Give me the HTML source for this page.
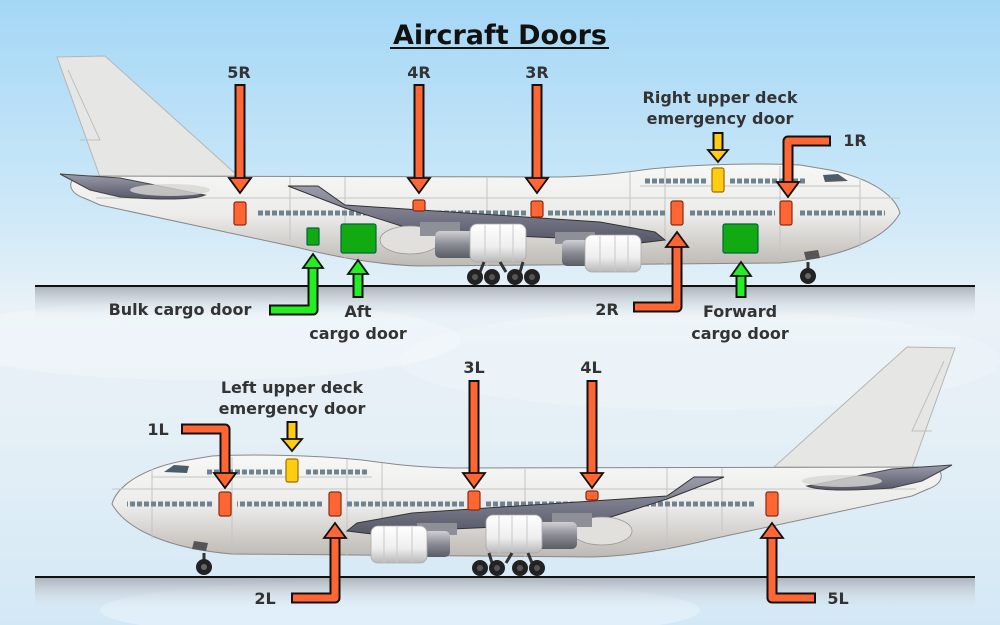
<!DOCTYPE html>
<html><head><meta charset="utf-8"><style>
html,body{margin:0;padding:0;width:1000px;height:625px;overflow:hidden}
svg{display:block}
text{font-family:"DejaVu Sans","Liberation Sans",sans-serif;font-weight:bold;fill:#333;font-size:16px}
</style></head><body>
<svg width="1000" height="625" viewBox="0 0 1000 625" xmlns="http://www.w3.org/2000/svg">
<defs>
<linearGradient id="sky" x1="0" y1="0" x2="0" y2="1">
<stop offset="0" stop-color="#a4d7f6"/><stop offset="0.35" stop-color="#cfe9f8"/>
<stop offset="0.5" stop-color="#eaf2f7"/><stop offset="0.7" stop-color="#e4eff6"/><stop offset="1" stop-color="#d3e8f6"/></linearGradient>
<linearGradient id="body" x1="0" y1="0" x2="0" y2="1">
<stop offset="0" stop-color="#f7f7f6"/><stop offset="0.5" stop-color="#ececea"/><stop offset="1" stop-color="#bdb9b3"/></linearGradient>
<linearGradient id="wing" x1="0" y1="0" x2="0" y2="1">
<stop offset="0" stop-color="#9a9cab"/><stop offset="1" stop-color="#555766"/></linearGradient>
<linearGradient id="eng" x1="0" y1="0" x2="0" y2="1">
<stop offset="0" stop-color="#ffffff"/><stop offset="0.6" stop-color="#eeeeee"/><stop offset="1" stop-color="#b8b8b8"/></linearGradient>
<linearGradient id="engb" x1="0" y1="0" x2="0" y2="1">
<stop offset="0" stop-color="#d0d0d4"/><stop offset="0.5" stop-color="#8a8c94"/><stop offset="1" stop-color="#5a5c64"/></linearGradient>
<linearGradient id="gnd" x1="0" y1="0" x2="0" y2="1">
<stop offset="0" stop-color="#aeb4bb"/><stop offset="1" stop-color="#dfe8ef" stop-opacity="0"/></linearGradient>
<g id="plane">
<path d="M57,57 L105,56 L238,176 L100,177 Z" fill="#e6e6e4" stroke="#b5b5b5" stroke-width="1"/>
<path d="M68,70 L100,140 L80,140" fill="none" stroke="#c0c0c0" stroke-width="1"/>
<path d="M900,213 C895,195 870,178 830,170 L800,165 C760,163 700,164 650,169 C620,173 600,176 560,177 L80,176 C68,178 66,192 84,198 L100,205 L300,248 C340,258 380,265 420,266 L780,263 C840,258 885,240 900,213 Z" fill="url(#body)" stroke="#888" stroke-width="1"/>
<path d="M96,198 L900,198 M640,186 L860,186 M290,177 L290,240 M345,177 L345,258 M487,177 L487,266 M630,172 L630,264 M665,168 L665,264 M780,166 L780,262 M860,178 L860,248" stroke="#c4c4c4" stroke-width="1" fill="none"/>
<path d="M823,175 L838,174 L848,181 L825,182 Z" fill="#4c5c68"/>
<path d="M258,213 H395 M430,213 H528 M548,213 H665 M690,213 H775 M800,213 H885" stroke="#6e8391" stroke-width="5" stroke-dasharray="5 2"/>
<path d="M645,181 H708 M730,181 H805" stroke="#6e8391" stroke-width="5" stroke-dasharray="5 2"/>
<path d="M60,174 L120,178 L205,195 C190,201 150,199 120,197 L90,190 Z" fill="url(#wing)" stroke="#444" stroke-width="1"/>
<ellipse cx="170" cy="190" rx="40" ry="6" fill="#d8d6d2" opacity="0.8"/>
<path d="M288,186 L318,186 L345,205 L600,222 L655,232 L665,240 L640,243 L560,238 L420,232 L345,208 Z" fill="url(#wing)" stroke="#333" stroke-width="1"/>
<ellipse cx="410" cy="240" rx="30" ry="14" fill="#e2e0dc" stroke="#999" stroke-width="0.8"/>
<rect x="420" y="222" width="40" height="14" fill="#8e9098"/>
<rect x="435" y="231" width="42" height="27" rx="5" fill="url(#engb)"/>
<rect x="470" y="224" width="56" height="38" rx="7" fill="url(#eng)" stroke="#aaa" stroke-width="0.8"/>
<path d="M485,225 V261 M500,224 V262 M513,224 V262" stroke="#c8c8c8" stroke-width="1"/>
<rect x="555" y="232" width="40" height="12" fill="#8e9098"/>
<rect x="562" y="240" width="30" height="26" rx="5" fill="url(#engb)"/>
<rect x="585" y="235" width="56" height="37" rx="7" fill="url(#eng)" stroke="#aaa" stroke-width="0.8"/>
<path d="M600,236 V271 M615,235 V272 M628,235 V272" stroke="#c8c8c8" stroke-width="1"/>
<path d="M484,262 L480,272 M500,262 L506,272 M523,262 L520,272" stroke="#333" stroke-width="3"/>
<circle cx="475" cy="277" r="8" fill="#222"/><circle cx="492" cy="277" r="8" fill="#222"/>
<circle cx="515" cy="277" r="8" fill="#222"/><circle cx="532" cy="277" r="8" fill="#222"/>
<circle cx="475" cy="277" r="3" fill="#555"/><circle cx="492" cy="277" r="3" fill="#555"/>
<circle cx="515" cy="277" r="3" fill="#555"/><circle cx="532" cy="277" r="3" fill="#555"/>
<path d="M808,262 V272" stroke="#333" stroke-width="3"/>
<path d="M804,252 L818,250 L820,258 L806,260 Z" fill="#555"/>
<circle cx="808" cy="276" r="8" fill="#222"/><circle cx="808" cy="276" r="3" fill="#666"/>
</g>
</defs>
<rect width="1000" height="625" fill="url(#sky)"/>
<ellipse cx="200" cy="340" rx="260" ry="40" fill="#fff" opacity="0.25"/>
<ellipse cx="700" cy="360" rx="300" ry="50" fill="#fff" opacity="0.2"/>
<ellipse cx="400" cy="610" rx="300" ry="30" fill="#fff" opacity="0.3"/>
<rect x="35" y="287" width="940" height="32" fill="url(#gnd)"/>
<rect x="35" y="578" width="940" height="32" fill="url(#gnd)"/>
<line x1="35" y1="286" x2="975" y2="286" stroke="#111" stroke-width="2"/>
<line x1="35" y1="577" x2="975" y2="577" stroke="#111" stroke-width="2"/>
<use href="#plane"/>
<use href="#plane" transform="translate(1012,291) scale(-1,1)"/>

<text x="500" y="44" text-anchor="middle" style="font-size:27px;fill:#111">Aircraft Doors</text>
<line x1="390" y1="48" x2="609" y2="48" stroke="#111" stroke-width="2"/>

<g stroke="#8a2a10" stroke-width="1.2">
<rect x="234" y="202" width="12" height="23" rx="2" fill="#ff6633"/>
<rect x="413" y="200" width="12" height="11" rx="2" fill="#ff6633"/>
<rect x="531" y="201" width="12" height="16" rx="2" fill="#ff6633"/>
<rect x="671" y="201" width="12" height="24" rx="2" fill="#ff6633"/>
<rect x="780" y="201" width="12" height="24" rx="2" fill="#ff6633"/>
<rect x="219" y="492" width="12" height="24" rx="2" fill="#ff6633"/>
<rect x="329" y="492" width="12" height="24" rx="2" fill="#ff6633"/>
<rect x="468" y="491" width="12" height="19" rx="2" fill="#ff6633"/>
<rect x="586" y="491" width="12" height="9" rx="2" fill="#ff6633"/>
<rect x="766" y="492" width="12" height="24" rx="2" fill="#ff6633"/>
</g>
<g stroke="#9a7000" stroke-width="1.2" fill="#ffcc11">
<rect x="712" y="168" width="12" height="24" rx="2"/>
<rect x="286" y="459" width="12" height="23" rx="2"/>
</g>
<g stroke="#064" stroke-width="1.2" fill="#11aa11">
<rect x="307" y="228" width="12" height="17" rx="1"/>
<rect x="341" y="224" width="35" height="29" rx="2"/>
<rect x="723" y="224" width="35" height="29" rx="2"/>
</g>

<g fill="none" stroke-linejoin="round">
<g stroke="#111" stroke-width="11">
<path d="M240,84 V180 M419,84 V180 M537,84 V180 M831,141 H788 V183 M633,307 H677 V245 M474,380 V474 M592,380 V474 M181,429 H225 V474 M291,598 H335 V536 M816,598 H772 V536"/>
</g>
<g stroke="#ff6633" stroke-width="7">
<path d="M240,86 V182 M419,86 V182 M537,86 V182 M829,141 H788 V185 M635,307 H677 V243 M474,382 V476 M592,382 V476 M183,429 H225 V476 M293,598 H335 V534 M814,598 H772 V534"/>
</g>
<g stroke="#111" stroke-width="11"><path d="M718,132 V152 M292,421 V441 M358,298 V272 M741,298 V274 M269,310 H313 V267"/></g>
<g stroke="#ffcc11" stroke-width="7"><path d="M718,134 V154 M292,423 V443"/></g>
<g stroke="#22ee22" stroke-width="7"><path d="M358,296 V270 M741,296 V272 M271,310 H313 V265"/></g>
</g>
<g stroke="#111" stroke-width="1.8" stroke-linejoin="miter" fill="#ff6633">
<polygon points="229,178 251,178 240,193"/>
<polygon points="408,178 430,178 419,193"/>
<polygon points="526,178 548,178 537,193"/>
<polygon points="777,182 799,182 788,197"/>
<polygon points="666,247 688,247 677,232"/>
<polygon points="463,473 485,473 474,488"/>
<polygon points="581,473 603,473 592,488"/>
<polygon points="214,473 236,473 225,488"/>
<polygon points="324,538 346,538 335,523"/>
<polygon points="761,538 783,538 772,523"/>
</g>
<g stroke="#111" stroke-width="1.8" fill="#ffcc11">
<polygon points="708,150 728,150 718,162"/>
<polygon points="282,439 302,439 292,451"/>
</g>
<g stroke="#111" stroke-width="1.8" fill="#22ee22">
<polygon points="303,268 323,268 313,254"/>
<polygon points="348,274 368,274 358,260"/>
<polygon points="731,276 751,276 741,262"/>
</g>

<text x="239" y="78" text-anchor="middle">5R</text>
<text x="419" y="78" text-anchor="middle">4R</text>
<text x="537" y="78" text-anchor="middle">3R</text>
<text x="720" y="103" text-anchor="middle">Right upper deck</text>
<text x="720" y="124" text-anchor="middle">emergency door</text>
<text x="855" y="146" text-anchor="middle">1R</text>
<text x="180" y="315" text-anchor="middle">Bulk cargo door</text>
<text x="358" y="317" text-anchor="middle">Aft</text>
<text x="358" y="339" text-anchor="middle">cargo door</text>
<text x="607" y="315" text-anchor="middle">2R</text>
<text x="740" y="317" text-anchor="middle">Forward</text>
<text x="740" y="339" text-anchor="middle">cargo door</text>
<text x="292" y="393" text-anchor="middle">Left upper deck</text>
<text x="292" y="414" text-anchor="middle">emergency door</text>
<text x="158" y="435" text-anchor="middle">1L</text>
<text x="474" y="373" text-anchor="middle">3L</text>
<text x="591" y="373" text-anchor="middle">4L</text>
<text x="265" y="604" text-anchor="middle">2L</text>
<text x="838" y="604" text-anchor="middle">5L</text>
</svg>
</body></html>
